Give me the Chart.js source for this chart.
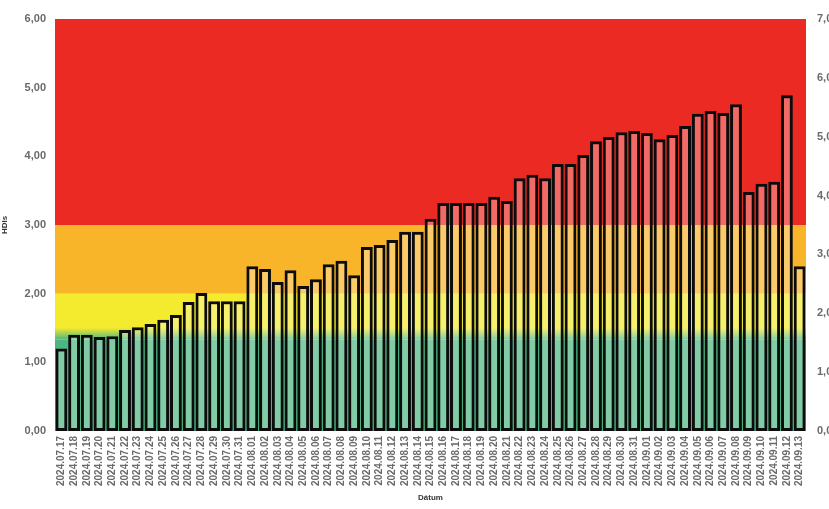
<!DOCTYPE html>
<html>
<head>
<meta charset="utf-8">
<script src="https://cdn.jsdelivr.net/npm/chart.js@4.4.1/dist/chart.umd.min.js"></script>
<style>
html,body{margin:0;padding:0;overflow:hidden;background:#fff;}
#wrap{width:850px;height:509px;}
</style>
</head>
<body>
<div id="wrap"><canvas id="c" width="850" height="509"></canvas></div>
<script>
const dates = ["2024.07.17","2024.07.18","2024.07.19","2024.07.20","2024.07.21","2024.07.22","2024.07.23","2024.07.24","2024.07.25","2024.07.26","2024.07.27","2024.07.28","2024.07.29","2024.07.30","2024.07.31",
"2024.08.01","2024.08.02","2024.08.03","2024.08.04","2024.08.05","2024.08.06","2024.08.07","2024.08.08","2024.08.09","2024.08.10","2024.08.11","2024.08.12","2024.08.13","2024.08.14","2024.08.15","2024.08.16","2024.08.17","2024.08.18","2024.08.19","2024.08.20","2024.08.21","2024.08.22","2024.08.23","2024.08.24","2024.08.25","2024.08.26","2024.08.27","2024.08.28","2024.08.29","2024.08.30","2024.08.31",
"2024.09.01","2024.09.02","2024.09.03","2024.09.04","2024.09.05","2024.09.06","2024.09.07","2024.09.08","2024.09.09","2024.09.10","2024.09.11","2024.09.12","2024.09.13"];
const hdiValues = [1.20,1.40,1.40,1.37,1.38,1.47,1.51,1.56,1.62,1.69,1.88,2.01,1.89,1.89,1.89,
2.40,2.36,2.17,2.34,2.11,2.21,2.43,2.48,2.27,2.68,2.71,2.78,2.90,2.90,3.09,3.32,3.32,3.32,3.32,3.41,3.35,3.68,3.73,3.68,3.89,3.89,4.02,4.22,4.28,4.35,4.37,
4.34,4.25,4.31,4.44,4.62,4.66,4.63,4.76,3.48,3.60,3.63,4.89,2.40];
// background zones on left axis: [from, to, colorTop, colorBottom]
const zoneBounds = [0, 1.33, 1.5, 2.0, 3.0, 6.0];
const zoneColors = [["#4DB581","#4DB581"],["#F2EA30","#4DB581"],["#F4EA2E","#F4EA2E"],["#F9B52A","#F9B52A"],["#EC2A24","#EC2A24"]];
const leftTicks = [0,1,2,3,4,5,6];
const rightTicks = [0,1,2,3,4,5,6,7];

const zonesPlugin = {
  id:'zones',
  beforeDatasetsDraw(chart){
    const {ctx, chartArea:a, scales:{y}} = chart;
    ctx.save();
    for(let i=0;i<zoneColors.length;i++){
      const yt = y.getPixelForValue(zoneBounds[i+1]);
      const yb = y.getPixelForValue(zoneBounds[i]);
      const g = ctx.createLinearGradient(0,yt,0,yb);
      g.addColorStop(0,zoneColors[i][0]);
      g.addColorStop(1,zoneColors[i][1]);
      ctx.fillStyle = g;
      ctx.fillRect(a.left, yt, a.right-a.left, yb-yt);
    }
    ctx.restore();
  }
};

const tickFont = {family:"'Liberation Sans', Arial, sans-serif", size:11, weight:'bold'};
new Chart(document.getElementById('c'), {
  type:'bar',
  data:{labels:dates, datasets:[{
    data:hdiValues, yAxisID:'y',
    backgroundColor:'rgba(255,255,255,0.3)',
    borderColor:'#0c0c0c', borderWidth:3, borderSkipped:false,
    barPercentage:0.96, categoryPercentage:0.97
  }]},
  options:{
    responsive:false, animation:false,
    layout:{padding:{top:19,left:0,right:0,bottom:0}},
    plugins:{legend:{display:false}, tooltip:{enabled:false}},
    scales:{
      x:{
        grid:{display:false, drawTicks:false}, border:{display:false},
        ticks:{color:'#6a6a6a', font:{...tickFont, size:10}, minRotation:90, maxRotation:90, autoSkip:false, padding:5},
        title:{display:true, text:'Dátum', color:'#333', font:{family:"'Liberation Sans', Arial, sans-serif", size:8, weight:'bold'}, padding:{top:0,bottom:6}},
        afterFit(s){ s.height = 78; }
      },
      y:{
        position:'left', min:0, max:6,
        grid:{display:false, drawTicks:false}, border:{display:false},
        afterBuildTicks(s){ s.ticks = leftTicks.map(v=>({value:v})); },
        ticks:{color:'#6a6a6a', font:tickFont, padding:9, callback:v=>v.toFixed(2).replace('.',',')},
        title:{display:true, text:'HDIs', color:'#333', font:{family:"'Liberation Sans', Arial, sans-serif", size:8, weight:'bold'}, padding:{top:0,bottom:4}},
        afterFit(s){ s.width = 55; }
      },
      y1:{
        position:'right', min:0, max:7,
        grid:{display:false, drawTicks:false}, border:{display:false},
        afterBuildTicks(s){ s.ticks = rightTicks.map(v=>({value:v})); },
        ticks:{color:'#6a6a6a', font:tickFont, padding:11, callback:v=>v.toFixed(2).replace('.',',')},
        afterFit(s){ s.width = 44; }
      }
    }
  },
  plugins:[zonesPlugin]
});
</script>
</body>
</html>
